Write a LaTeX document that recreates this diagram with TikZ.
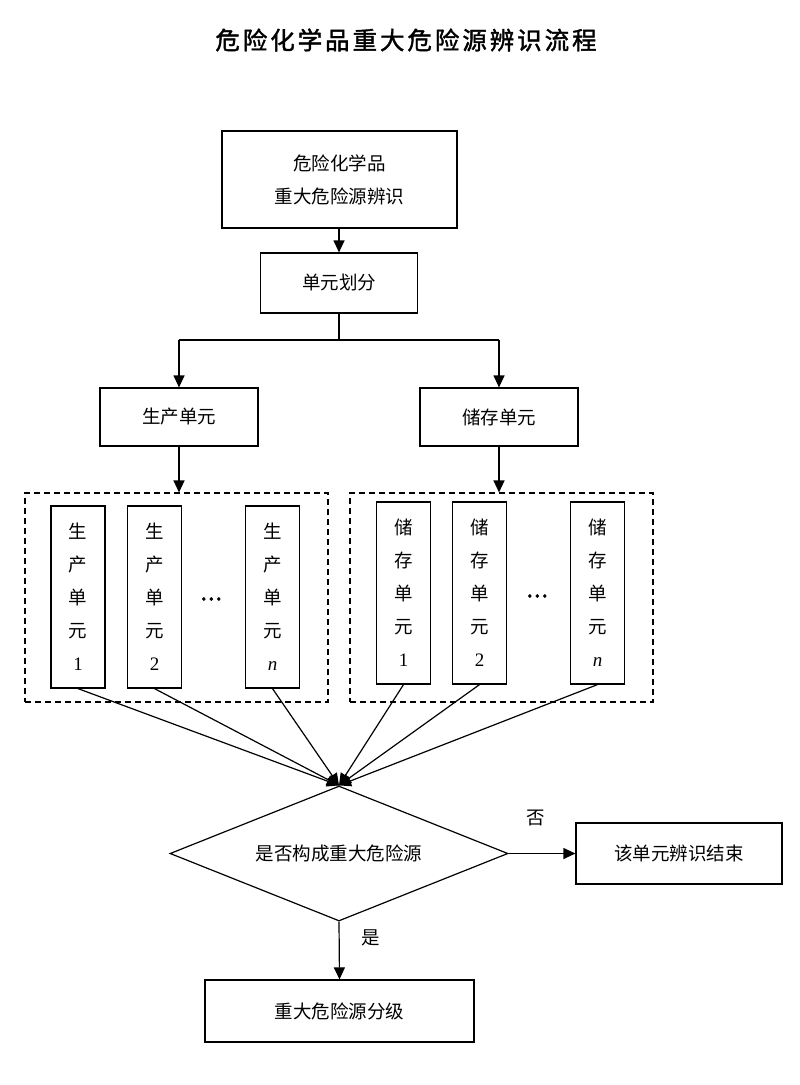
\documentclass[tikz,border=0pt]{standalone}
\usepackage{fontspec}
\newfontfamily\cjk{Noto Sans CJK SC}
\newfontfamily\cjkb[FakeBold=4]{Noto Sans CJK SC}
\newfontfamily\cjkt[FakeBold=1.6,LetterSpace=12]{Noto Sans CJK SC}
\newfontfamily\numfont{Liberation Serif}
\usetikzlibrary{arrows.meta,shapes.geometric}
\newcommand{\numtxt}[1]{{\numfont\fontsize{19}{33}\selectfont #1}}
\tikzset{
  box/.style={draw,line width=1.2pt,inner sep=0pt,align=center,font=\fontsize{18.5}{33}\cjk},
  vbox/.style={box,minimum width=54pt,minimum height=182pt},
  dbox/.style={draw,line width=1.1pt,dash pattern=on 6pt off 4pt,inner sep=0pt},
  arr/.style={line width=1.2pt,-{Triangle[length=12pt,width=11pt]}},
  ln/.style={line width=1.2pt},
  lbl/.style={font=\fontsize{18.5}{20}\cjk,inner sep=0pt},
  dots/.style={font=\fontsize{20}{20}\cjkb,inner sep=0pt}
}
\begin{document}
\begin{tikzpicture}[x=1pt,y=-1pt]
\useasboundingbox[fill=white] (0,0) rectangle (800,1085);
\node[font=\fontsize{24.5}{26}\cjkt,inner sep=0pt] (title) at (406,40) {危险化学品重大危险源辨识流程};
\node[box,minimum width=235pt,minimum height=97pt] (b1) at (339.5,179.5) {危险化学品\\重大危险源辨识};
\node[box,minimum width=157pt,minimum height=60pt] (b2) at (339,283) {单元划分};
\node[box,minimum width=158pt,minimum height=58pt] (pu) at (179,417) {生产单元};
\node[box,minimum width=158pt,minimum height=58pt] (su) at (499,417) {储存单元};
\node[dbox,minimum width=303pt,minimum height=209pt] (dl) at (176.5,597.5) {};
\node[dbox,minimum width=303pt,minimum height=209pt] (dr) at (501.5,597.5) {};
\node[vbox] (p1) at (78,597) {生\\产\\单\\元\\\numtxt{1}};
\node[vbox] (p2) at (154.5,597) {生\\产\\单\\元\\\numtxt{2}};
\node[vbox] (pn) at (272.5,597) {生\\产\\单\\元\\\numtxt{\itshape n}};
\node[dots] (pdots) at (211,599) {…};
\node[vbox] (s1) at (403.5,593) {储\\存\\单\\元\\\numtxt{1}};
\node[vbox] (s2) at (479.5,593) {储\\存\\单\\元\\\numtxt{2}};
\node[vbox] (sn) at (597.5,593) {储\\存\\单\\元\\\numtxt{\itshape n}};
\node[dots] (sdots) at (537,596) {…};
\node[draw,line width=1.2pt,diamond,shape aspect=2.5,minimum width=338pt,minimum height=135pt,inner sep=0pt,font=\fontsize{18.5}{20}\cjk] (d) at (339,853.5) {是否构成重大危险源};
\node[box,minimum width=206pt,minimum height=61pt] (end) at (679,853.5) {该单元辨识结束};
\node[box,minimum width=269pt,minimum height=62pt] (grade) at (339.5,1011) {重大危险源分级};
\node[lbl] (no) at (536,818) {否};
\node[lbl] (yes) at (371,938) {是};
\coordinate (sl) at (179,340);
\coordinate (sr) at (499,340);
\draw[arr] (b1.south -| b2.north) -- (b2.north);
\draw[ln] (b2.south) -- (b2.south |- sl);
\draw[ln] (sl) -- (sr);
\draw[arr] (sl) -- (pu.north);
\draw[arr] (sr) -- (su.north);
\draw[arr] (pu.south) -- (pu.south |- dl.north);
\draw[arr] (su.south) -- (su.south |- dr.north);
\foreach \n in {p1,p2,pn,s1,s2,sn} \draw[arr] (\n.south) -- (d.north);
\draw[arr] (d.east) -- (end.west);
\draw[arr] (d.south) -- (grade.north);
\end{tikzpicture}
\end{document}
